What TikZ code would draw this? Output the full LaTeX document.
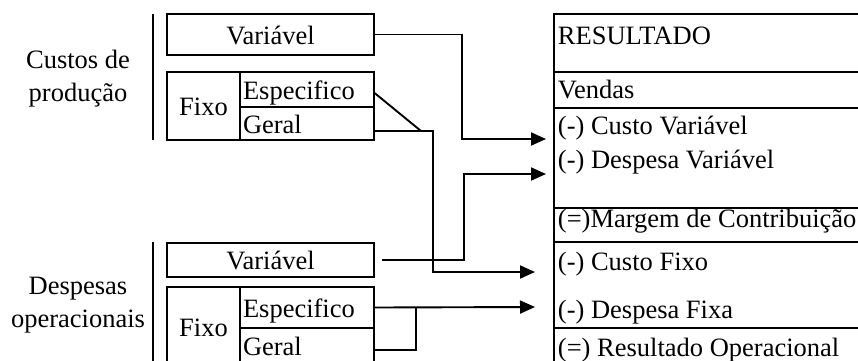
\documentclass[tikz,border=0pt]{standalone}
\usepackage{fontspec}
\setmainfont{Liberation Serif}
\usetikzlibrary{positioning}
\usetikzlibrary{arrows.meta}

\begin{document}
\begin{tikzpicture}[x=1pt,y=-1pt,line width=1.9pt,>={Triangle[length=15pt,width=13pt]},
    font=\fontsize{26.5}{33}\selectfont,
    caixa/.style={draw, anchor=north west, inner sep=3pt, outer sep=0pt, text height=19pt, text depth=0pt},
    celula/.style={caixa, minimum width=134pt, text width=128pt, align=left},
    linha/.style={anchor=base west, inner sep=0pt}]
  \useasboundingbox (0,0) rectangle (858,360);

  % draw custos de producao
  \node[align=center] (custos) at (78,79) {Custos de\\produção};
  \draw (153,14) -- (153,140);
  \node[caixa, minimum width=207pt, minimum height=41pt] (cvar) at (167,14) {Variável};
  \node[caixa, minimum width=73pt, minimum height=68pt] (cfixo) at (167,72) {Fixo};
  \node[celula, minimum height=35pt] (cesp) at (cfixo.north east) {Especifico};
  \node[celula, minimum height=33pt] (cger) at (cesp.south west) {Geral};

  % draw despesas operacionais
  \node[align=center] (despesas) at (78,305) {Despesas\\operacionais};
  \draw (153,242) -- (153,372);
  \node[caixa, minimum width=207pt, minimum height=34pt] (dvar) at (167,243) {Variável};
  \node[caixa, minimum width=73pt, minimum height=79pt] (dfixo) at (167,287) {Fixo};
  \node[celula, minimum height=41pt] (desp) at (dfixo.north east) {Especifico};
  \node[celula, minimum height=36pt] (dger) at (desp.south west) {Geral};

  % draw resultado
  \draw (870,14) -- (554,14) -- (554,372);
  \foreach \y in {72,108,208,242,328} \draw (554,\y) -- (870,\y);
  \node[linha] (res) at (557,44) {RESULTADO};
  \node[linha] (vendas) at (557,98) {Vendas};
  \node[linha] (custovar) at (557,134) {(-) Custo Variável};
  \node[linha] (despvar) at (557,168) {(-) Despesa Variável};
  \node[linha] (margem) at (557,227) {(=)Margem de Contribuição};
  \node[linha] (custofixo) at (557,270) {(-) Custo Fixo};
  \node[linha] (despfixa) at (557,318) {(-) Despesa Fixa};
  \node[linha] (resop) at (557,356) {(=) Resultado Operacional};

  % arrow ends
  \coordinate (fimcv) at (546,139);
  \coordinate (fimdv) at (546,174);
  \coordinate (fimcf) at (535,272);
  \coordinate (fimdf) at (535,307);

  % draw connectors
  \draw[->] (cvar.east) -- ++(88,0) |- (fimcv);
  \draw ([yshift=-3pt]cesp.east) -- ([xshift=47pt,yshift=-7.5pt]cger.east);
  \draw[->] ([yshift=-7.5pt]cger.east) -- ++(59,0) |- (fimcf);
  \draw[->] ([xshift=8pt]dvar.east) -- ++(82,0) |- (fimdv);
  \draw[->] (desp.east) -- (fimdf);
  \draw ([yshift=-4pt]dger.east) -- ++(42,0) |- (desp.east);
\end{tikzpicture}
\end{document}
